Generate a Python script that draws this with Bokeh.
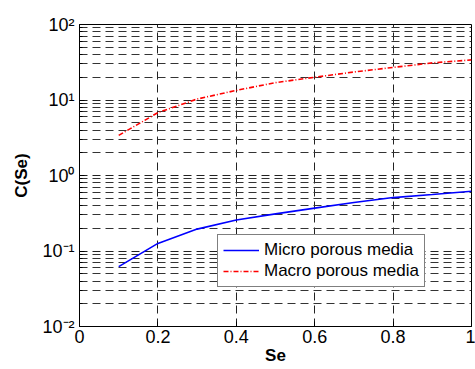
from bokeh.plotting import figure
from bokeh.models import FixedTicker, Range1d, Legend, LegendItem
from bokeh.embed import file_html
from bokeh.resources import INLINE

# data
se = [0.1, 0.2, 0.3, 0.4, 0.5, 0.6, 0.7, 0.8, 0.9, 1.0]
micro = [0.062, 0.126, 0.195, 0.257, 0.31, 0.37, 0.44, 0.51, 0.56, 0.62]
macro = [3.4, 6.8, 10.3, 13.4, 17.0, 20.0, 23.5, 27.0, 31.0, 34.0]

x_ticks = [0, 0.2, 0.4, 0.6, 0.8, 1.0]
x_labels = ["0", "0.2", "0.4", "0.6", "0.8", "1"]
y_ticks = [0.01, 0.1, 1, 10, 100]
y_labels = ["10\u207b\u00b2", "10\u207b\u00b9", "10\u2070", "10\u00b9", "10\u00b2"]
y_minor = [m * d for d in [0.01, 0.1, 1, 10] for m in range(2, 10)]

FONT = "Liberation Sans"

p = figure(width=475, height=369, output_backend="svg", toolbar_location=None,
           y_axis_type="log", x_range=Range1d(0, 1), y_range=Range1d(0.01, 100),
           min_border_left=79, min_border_right=4, min_border_top=24, min_border_bottom=43)

p.background_fill_color = "white"
p.outline_line_color = "black"
p.outline_line_width = 1

# axes
p.xaxis.ticker = FixedTicker(ticks=x_ticks)
p.xaxis.major_label_overrides = {t: l for t, l in zip(x_ticks, x_labels)}
p.yaxis.ticker = FixedTicker(ticks=y_ticks, minor_ticks=y_minor)
p.yaxis.major_label_overrides = {t: l for t, l in zip(y_ticks, y_labels)}

for ax in (p.xaxis[0], p.yaxis[0]):
    ax.major_label_text_font = FONT
    ax.major_label_text_font_size = "18px"
    ax.major_label_text_color = "black"
    ax.axis_line_color = "black"
    ax.major_tick_in = 5
    ax.major_tick_out = 0
    ax.minor_tick_in = 3
    ax.minor_tick_out = 0
    ax.major_tick_line_color = "black"
    ax.minor_tick_line_color = "black"
    ax.axis_label_text_font = FONT
    ax.axis_label_text_font_size = "17px"
    ax.axis_label_text_font_style = "bold"
    ax.axis_label_text_color = "black"

p.xaxis.axis_label = "Se"
p.yaxis.axis_label = "C(Se)"
p.xaxis.major_label_standoff = 3
p.yaxis.major_label_standoff = 5
p.xaxis.axis_label_standoff = 0
p.yaxis.axis_label_standoff = 8

# grids
p.xgrid.ticker = FixedTicker(ticks=x_ticks)
p.xgrid.grid_line_color = "#222222"
p.xgrid.grid_line_dash = "8 5"
p.xgrid.grid_line_width = 1
p.ygrid.ticker = FixedTicker(ticks=y_ticks, minor_ticks=y_minor)
p.ygrid.grid_line_color = "#222222"
p.ygrid.grid_line_dash = "8 5"
p.ygrid.grid_line_width = 1
p.ygrid.minor_grid_line_color = "#333333"
p.ygrid.minor_grid_line_dash = "8 5"
p.ygrid.minor_grid_line_width = 1

r1 = p.line(se, micro, line_color="blue", line_width=1.6)
r2 = p.line(se, macro, line_color="red", line_width=1.6, line_dash="5 2 1 2")

legend = Legend(items=[LegendItem(label="Micro porous media", renderers=[r1]),
                       LegendItem(label="Macro porous media", renderers=[r2])],
                location=(138, 39))
legend.label_text_font = FONT
legend.label_text_font_size = "17px"
legend.label_text_color = "black"
legend.label_height = 20
legend.glyph_height = 20
legend.glyph_width = 36
legend.label_standoff = 5
legend.spacing = 1
legend.padding = 5
legend.margin = 0
legend.border_line_color = "black"
legend.border_line_width = 1
legend.background_fill_color = "white"
legend.background_fill_alpha = 1
p.add_layout(legend, "center")

open("out.html", "w").write(file_html(p, INLINE))
